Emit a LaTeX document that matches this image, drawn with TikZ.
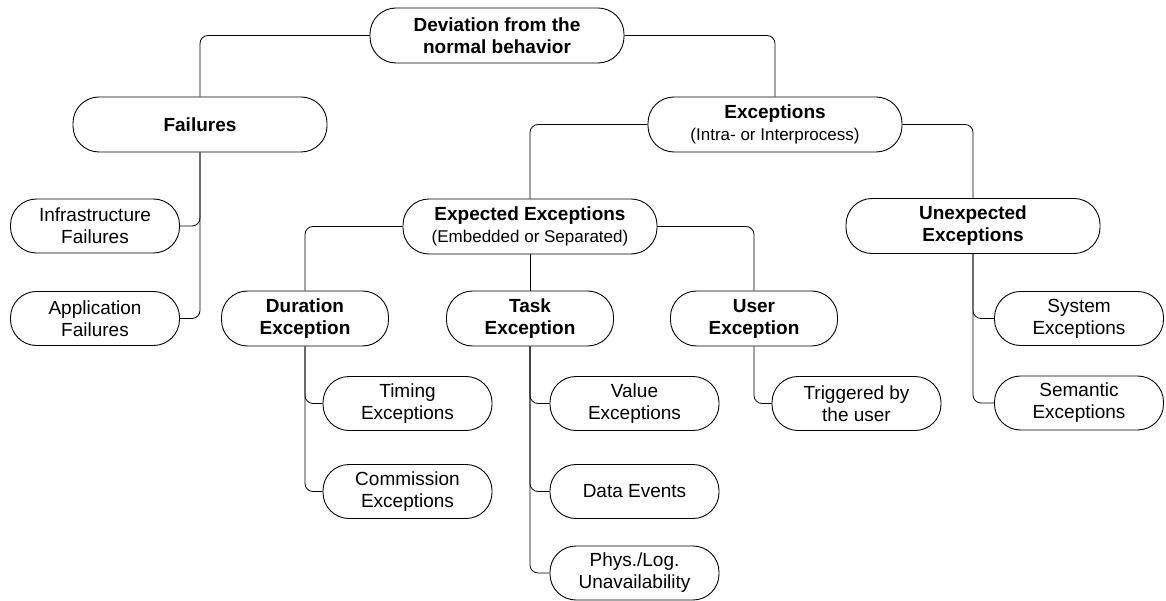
\documentclass[tikz,border=0pt]{standalone}
\usepackage{fontspec}
\setmainfont{Liberation Sans}
\begin{document}
\begin{tikzpicture}[x=1pt,y=-1pt]
\tikzset{
  pill/.style={draw, line width=0.9pt, rounded corners=26pt, minimum height=55pt,
    align=center, inner sep=2pt, font=\fontsize{19}{22}\selectfont},
  topbox/.style={pill, minimum width=254pt, font=\bfseries\fontsize{19}{22}\selectfont},
  midbox/.style={pill, minimum width=167pt, font=\bfseries\fontsize{19}{22}\selectfont},
  leaf/.style={pill, minimum width=169pt, minimum height=54pt},
  link/.style={line width=0.8pt, rounded corners=8pt}
}
\newcommand{\subline}[1]{{\mdseries\fontsize{17}{21}\selectfont #1}}
\useasboundingbox (0,0) rectangle (1166,601);

% top level
\node[topbox] (root) at (497,35.5) {Deviation from the\\normal behavior};
\node[topbox] (fail) at (200,124.5) {Failures};
\node[topbox] (exc)  at (775,124.5) {Exceptions\\\subline{(Intra- or Interprocess)}};

% failures branch
\node[leaf] (infra) at (95,226) {Infrastructure\\Failures};
\node[leaf] (app)   at (95,318.5) {Application\\Failures};

% exceptions branch
\node[topbox] (expd)  at (530,226.5) {Expected Exceptions\\\subline{(Embedded or Separated)}};
\node[topbox] (unexp) at (973,226) {Unexpected\\Exceptions};

\node[midbox] (dur)  at (305,318.5) {Duration\\Exception};
\node[midbox] (task) at (530,318.5) {Task\\Exception};
\node[midbox] (user) at (754,318.5) {User\\Exception};

\node[leaf] (timing) at (407.5,403.5) {Timing\\Exceptions};
\node[leaf] (comm)   at (407.5,491.5) {Commission\\Exceptions};
\node[leaf] (value)  at (634.5,403.5) {Value\\Exceptions};
\node[leaf] (data)   at (634.5,491.5) {Data Events};
\node[leaf] (phys)   at (634.5,573) {Phys./Log.\\Unavailability};
\node[leaf] (trig)   at (856.5,403.5) {Triggered by\\the user};
\node[leaf] (sys)    at (1079,318.5) {System\\Exceptions};
\node[leaf] (sem)    at (1079,403) {Semantic\\Exceptions};

% connectors
\draw[link] (root.west) -| (fail.north);
\draw[link] (root.east) -| (exc.north);
\draw[link] (fail.south) |- (infra.east);
\draw[link] (fail.south) |- (app.east);
\draw[link] (exc.west) -| (expd.north);
\draw[link] (exc.east) -| (unexp.north);
\draw[link] (expd.west) -| (dur.north);
\draw[link] (expd.south) -- (task.north);
\draw[link] (expd.east) -| (user.north);
\draw[link] (dur.south) |- (timing.west);
\draw[link] (dur.south) |- (comm.west);
\draw[link] (task.south) |- (value.west);
\draw[link] (task.south) |- (data.west);
\draw[link] (task.south) |- (phys.west);
\draw[link] (user.south) |- (trig.west);
\draw[link] (unexp.south) |- (sys.west);
\draw[link] (unexp.south) |- (sem.west);
\end{tikzpicture}
\end{document}
